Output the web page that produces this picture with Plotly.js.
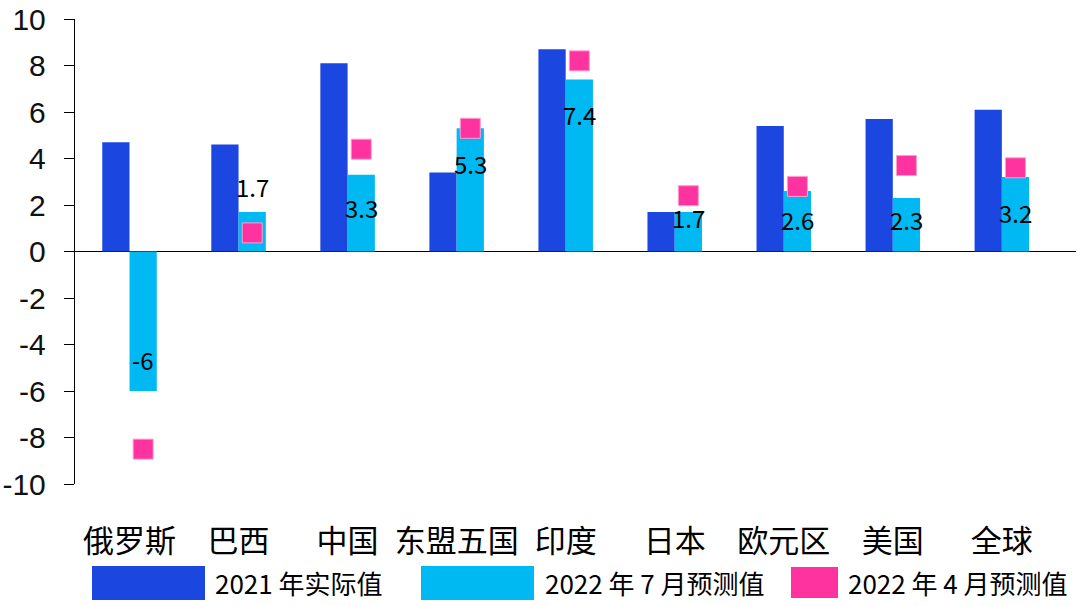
<!DOCTYPE html>
<html><head><meta charset="utf-8">
<script src="https://cdn.plot.ly/plotly-3.0.1.min.js"></script>
<style>html,body{margin:0;padding:0;background:#fff}#chart{width:1080px;height:606px}</style>
</head><body><div id="chart"></div>
<script>
const categories = ["俄罗斯","巴西","中国","东盟五国","印度","日本","欧元区","美国","全球"];
const actual2021 = [4.7, 4.6, 8.1, 3.4, 8.7, 1.7, 5.4, 5.7, 6.1];
const forecastJul2022 = [-6, 1.7, 3.3, 5.3, 7.4, 1.7, 2.6, 2.3, 3.2];
const forecastApr2022 = [-8.5, 0.8, 4.4, 5.3, 8.2, 2.4, 2.8, 3.7, 3.6];
const seriesNames = ["2021 年实际值", "2022 年 7 月预测值", "2022 年 4 月预测值"];
const yTicks = [-10, -8, -6, -4, -2, 0, 2, 4, 6, 8, 10];

// label offsets (px) for the data labels on the July bars
const labelShift = [32, 25, -33, -35, -35, -6, -28, -21, -35];

const C_DARK = "#1B47E0", C_LIGHT = "#00B9F2", C_PINK = "#FF33A0";
const CJK = "Noto Sans CJK SC, Noto Sans, sans-serif";

const traces = [
  {type: "bar", x: categories, y: actual2021, name: seriesNames[0],
   marker: {color: C_DARK}, showlegend: false, hoverinfo: "x+y"},
  {type: "bar", x: categories, y: forecastJul2022, name: seriesNames[1],
   marker: {color: C_LIGHT}, showlegend: false, hoverinfo: "x+y"},
  {type: "scatter", mode: "markers", x: categories, y: forecastApr2022, name: seriesNames[2],
   xaxis: "x2", yaxis: "y",
   marker: {symbol: "square", size: 20, color: C_PINK, line: {color: "#FF9CD0", width: 1}},
   showlegend: false, hoverinfo: "x+y"}
];

const annotations = categories.map((c, i) => ({
  xref: "x2", yref: "y", x: c, y: forecastJul2022[i], yshift: labelShift[i],
  text: String(forecastJul2022[i]), showarrow: false,
  font: {family: CJK, size: 24, color: "#000"}
}));

// custom legend
const legendSw = [
  {x0: 92, x1: 205, y0: 566, y1: 600, tx: 213},
  {x0: 421, x1: 534, y0: 566, y1: 600, tx: 543},
  {x0: 791, x1: 838, y0: 567, y1: 598, tx: 846}
];
const legendColors = [C_DARK, C_LIGHT, C_PINK];
const shapes = legendSw.map((s, i) => ({
  type: "rect", xref: "paper", yref: "paper", layer: "above",
  x0: (s.x0 - 75) / 1001, x1: (s.x1 - 75) / 1001,
  y0: (484 - s.y1) / 465, y1: (484 - s.y0) / 465,
  fillcolor: legendColors[i], line: {width: 0}
}));
legendSw.forEach((s, i) => annotations.push({
  xref: "paper", yref: "paper", x: (s.tx - 75) / 1001, y: (484 - 582) / 465,
  xanchor: "left", yanchor: "middle", text: seriesNames[i], showarrow: false,
  font: {family: CJK, size: 26, color: "#000"}
}));

const layout = {
  width: 1080, height: 606,
  margin: {l: 75, r: 4, t: 19, b: 122},
  paper_bgcolor: "#fff", plot_bgcolor: "#fff",
  showlegend: false,
  bargap: 0.5, bargroupgap: 0, barmode: "group",
  xaxis: {type: "category", range: [-0.5, 8.68], showline: false, ticks: "",
    showgrid: false, zeroline: false,
    tickfont: {family: CJK, size: 31, color: "#000"}, ticklabelstandoff: 36},
  xaxis2: {type: "category", overlaying: "x", range: [-0.625, 8.555], visible: false,
    categoryorder: "array", categoryarray: categories},
  yaxis: {range: [-10, 10], tickvals: yTicks, ticktext: yTicks.map(String),
    showline: true, linecolor: "#000", linewidth: 1.2,
    ticks: "outside", ticklen: 10, tickcolor: "#000", tickwidth: 1,
    showgrid: false, zeroline: true, zerolinecolor: "#000", zerolinewidth: 1.5,
    tickfont: {family: "Liberation Sans, Arial, sans-serif", size: 30, color: "#111"},
    ticklabelstandoff: 12},
  shapes: shapes,
  annotations: annotations
};

Plotly.newPlot("chart", traces, layout, {displayModeBar: false, staticPlot: true});
</script></body></html>
